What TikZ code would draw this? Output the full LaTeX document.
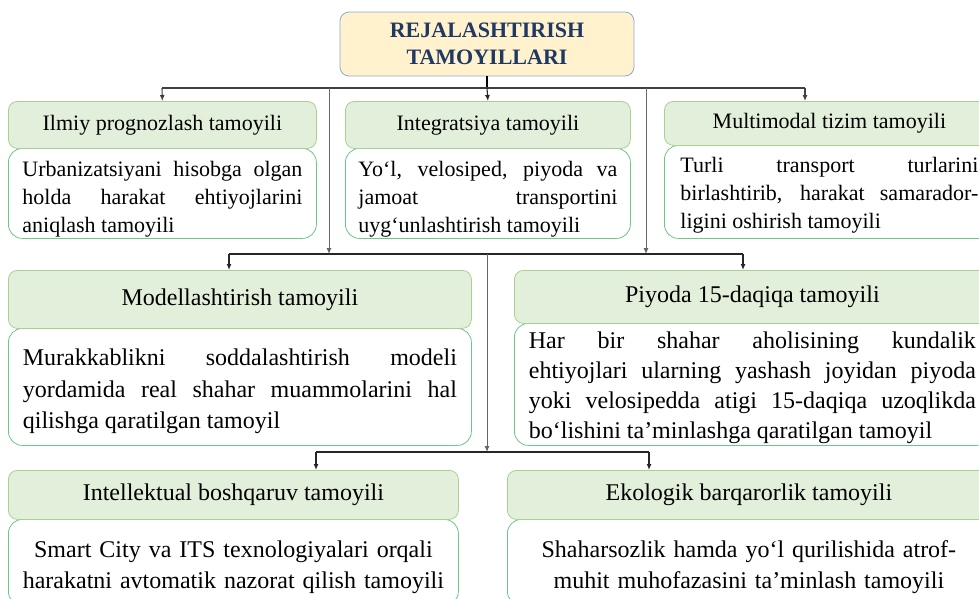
\documentclass[tikz,border=0pt]{standalone}
\usepackage{fontspec}
\setmainfont{Liberation Serif}
\usepackage{tikz}
\usetikzlibrary{arrows.meta}
\definecolor{sariq}{HTML}{FFF2CC}
\definecolor{kokchegara}{HTML}{8FAAD0}
\definecolor{tuqkok}{HTML}{1F3864}
\definecolor{yashil}{HTML}{E2EFDA}
\definecolor{yashilchegara}{HTML}{A9D18E}
\definecolor{matnchegara}{HTML}{6CC88A}
\newcommand{\kichik}{\fontsize{22}{28}\selectfont}
\newcommand{\katta}{\fontsize{24}{30.5}\selectfont}
\newcommand{\tirgak}[1]{\rule{0pt}{#1}}
\tikzstyle{asosiy}=[draw=kokchegara,fill=sariq,rounded corners=9pt,minimum width=294pt,minimum height=64pt,inner sep=0pt,align=center,font=\fontsize{22}{27}\selectfont\bfseries,text=tuqkok,line width=0.8pt]
\tikzstyle{sarlavha}=[draw=yashilchegara,fill=yashil,rounded corners=9pt,anchor=north west,inner sep=0pt,line width=0.8pt]
\tikzstyle{matn}=[draw=matnchegara,fill=white,rounded corners=14pt,anchor=north west,inner ysep=0pt,align=justify,line width=0.8pt]
\tikzstyle{chiziq}=[line width=1.3pt,black!85]
\tikzstyle{strelka}=[chiziq,-{Latex[length=6pt,width=5pt]}]

\begin{document}
\begin{tikzpicture}[x=1pt,y=-1pt]
    \clip (0,0) rectangle (979,598);
    \node [asosiy] (root) at (487,44) {REJALASHTIRISH\\TAMOYILLARI};

    \node [matn,text width=280pt,inner xsep=14pt,minimum height=90pt,font=\kichik] (ilmiyB) at (8,148) {\tirgak{26pt}Urbanizatsiyani hisobga olgan\linebreak holda harakat ehtiyojlarini\linebreak aniqlash tamoyili};
    \node [sarlavha,minimum width=308pt,minimum height=47pt,font=\kichik] (ilmiyH) at (8,101) {Ilmiy prognozlash tamoyili};
    \node [matn,text width=259pt,inner xsep=13pt,minimum height=90pt,font=\kichik] (integB) at (345,148) {\tirgak{26pt}Yo‘l, velosiped, piyoda va\linebreak jamoat transportini\linebreak uyg‘unlashtirish tamoyili};
    \node [sarlavha,minimum width=285pt,minimum height=47pt,font=\kichik] (integH) at (345,101) {Integratsiya tamoyili};
    \node [matn,text width=298pt,inner xsep=16pt,minimum height=93pt,font=\kichik] (multiB) at (664,145) {\tirgak{21pt}Turli transport turlarini\linebreak birlashtirib, harakat samarador-\linebreak ligini oshirish tamoyili};
    \node [sarlavha,minimum width=330pt,minimum height=44pt,font=\kichik] (multiH) at (664,101) {Multimodal tizim tamoyili};

    \node [matn,text width=434pt,inner xsep=14.5pt,minimum height=117pt,font=\fontsize{24}{31.5}\selectfont] (modelB) at (8,328) {\tirgak{26pt}Murakkablikni soddalashtirish modeli\linebreak yordamida real shahar muammolarini hal\linebreak qilishga qaratilgan tamoyil};
    \node [sarlavha,minimum width=463pt,minimum height=58pt,font=\katta] (modelH) at (8,270) {Modellashtirish tamoyili};
    \node [matn,text width=447pt,inner xsep=14.5pt,minimum height=122pt,font=\fontsize{24}{30}\selectfont] (piyodaB) at (514,323) {\tirgak{23pt}Har bir shahar aholisining kundalik\linebreak ehtiyojlari ularning yashash joyidan piyoda\linebreak yoki velosipedda atigi 15-daqiqa uzoqlikda\linebreak bo‘lishini ta’minlashga qaratilgan tamoyil};
    \node [sarlavha,minimum width=476pt,minimum height=53pt,font=\katta] (piyodaH) at (514,270) {Piyoda 15-daqiqa tamoyili};

    \node [matn,align=center,text width=430pt,inner xsep=10pt,minimum height=86pt,font=\katta] (intelB) at (8,519) {\tirgak{26pt}Smart City va ITS texnologiyalari orqali\\harakatni avtomatik nazorat qilish tamoyili};
    \node [sarlavha,minimum width=450pt,minimum height=49pt,font=\katta] (intelH) at (8,470) {Intellektual boshqaruv tamoyili};
    \node [matn,align=center,text width=463pt,inner xsep=10pt,minimum height=86pt,font=\katta] (ekoB) at (507,519) {\tirgak{26pt}Shaharsozlik hamda yo‘l qurilishida atrof-\\muhit muhofazasini ta’minlash tamoyili};
    \node [sarlavha,minimum width=483pt,minimum height=49pt,font=\katta] (ekoH) at (507,470) {Ekologik barqarorlik tamoyili};

    \coordinate (t1) at (487,88);
    \coordinate (k1) at (162,88);
    \coordinate (k3) at (805,88);
    \coordinate (c1) at (329,88);
    \coordinate (c2) at (646,88);
    \coordinate (t2) at (487,254);
    \coordinate (k4) at (229,254);
    \coordinate (k5) at (743,254);
    \coordinate (t3) at (487,452);
    \coordinate (k6) at (316,452);
    \coordinate (k7) at (649,452);

    \draw [line width=2.4pt] (root.south) -- (t1);
    \draw [line width=1.1pt,black!75] (k1) -- (k3);
    \draw [strelka,line width=1.1pt,black!75] (k1) -- (ilmiyH.north);
    \draw [strelka,line width=1.1pt] (t1) -- (integH.north);
    \draw [strelka,line width=1.1pt,black!75] (k3) -- (k3 |- multiH.north);
    \draw [strelka,line width=1pt,black!60] (c1) -- (c1 |- t2);
    \draw [strelka,line width=1pt,black!60] (c2) -- (c2 |- t2);

    \draw [chiziq,line width=1.8pt] (k4) -- (k5);
    \draw [strelka] (k4) -- (k4 |- modelH.north);
    \draw [strelka] (k5) -- (k5 |- piyodaH.north);
    \draw [strelka,line width=1pt,black!60] (t2) -- (t3);

    \draw [chiziq,line width=1.8pt] (k6) -- (k7);
    \draw [strelka] (k6) -- (k6 |- intelH.north);
    \draw [strelka] (k7) -- (k7 |- ekoH.north);
\end{tikzpicture}
\end{document}
